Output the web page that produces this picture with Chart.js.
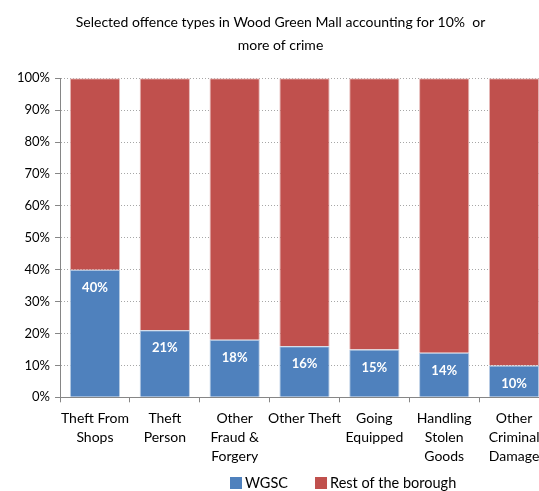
<!DOCTYPE html>
<html>
<head>
<meta charset="utf-8">
<script src="https://cdn.jsdelivr.net/npm/chart.js@4.4.1/dist/chart.umd.min.js"></script>
<style>
    html, body { margin: 0; padding: 0; background: #fff; overflow: hidden; }
    #wrap { width: 560px; height: 491px; }
</style>
</head>
<body>
<div id="wrap"><canvas id="crimeChart"></canvas></div>
<script>
const categories = [
    ["Theft From", "Shops"],
    ["Theft", "Person"],
    ["Other", "Fraud &", "Forgery"],
    "Other Theft",
    ["Going", "Equipped"],
    ["Handling", "Stolen", "Goods"],
    ["Other", "Criminal", "Damage"]
];
const wgscValues = [40, 21, 18, 16, 15, 14, 10];
const restValues = [60, 79, 82, 84, 85, 86, 90];
const seriesNames = ["WGSC", "Rest of the borough"];
const seriesColors = ["#4F81BD", "#C0504D"];

const FONT = "Lato, 'DejaVu Sans', sans-serif";

// white value labels inside the top of the blue bars
const valueLabels = {
    id: "valueLabels",
    afterDatasetsDraw(chart) {
        const ctx = chart.ctx;
        const meta = chart.getDatasetMeta(0);
        ctx.save();
        ctx.fillStyle = "#ffffff";
        ctx.font = "bold 13px " + FONT;
        ctx.textAlign = "center";
        ctx.textBaseline = "middle";
        meta.data.forEach((bar, i) => {
            ctx.fillText(wgscValues[i] + "%", bar.x, bar.y + 18);
        });
        ctx.restore();
    }
};

// legend drawn by hand so it can sit where the original has it
const customLegend = {
    id: "customLegend",
    afterDraw(chart) {
        const ctx = chart.ctx;
        ctx.save();
        ctx.font = "14.5px " + FONT;
        ctx.textBaseline = "middle";
        let x = 230;
        const y = 483;
        seriesNames.forEach((name, i) => {
            ctx.fillStyle = seriesColors[i];
            ctx.fillRect(x, y - 6, 12, 12);
            ctx.fillStyle = "#000";
            ctx.fillText(name, x + 15, y);
            x += 15 + ctx.measureText(name).width + 27;
        });
        ctx.restore();
    }
};

new Chart(document.getElementById("crimeChart"), {
    type: "bar",
    data: {
        labels: categories,
        datasets: [
            {
                label: seriesNames[0],
                data: wgscValues,
                backgroundColor: seriesColors[0],
                borderColor: "#b9cde5",
                borderWidth: 1,
                barPercentage: 0.72,
                categoryPercentage: 1
            },
            {
                label: seriesNames[1],
                data: restValues,
                backgroundColor: seriesColors[1],
                borderColor: "#e6b9b8",
                borderWidth: 1,
                barPercentage: 0.72,
                categoryPercentage: 1
            }
        ]
    },
    options: {
        responsive: true,
        maintainAspectRatio: false,
        animation: false,
        layout: { padding: { top: 11, right: 11, bottom: 18, left: 12 } },
        plugins: {
            legend: { display: false },
            tooltip: { enabled: false },
            title: {
                display: true,
                text: ["Selected offence types in Wood Green Mall accounting for 10%  or", "more of crime"],
                color: "#000",
                font: { family: FONT, size: 14, weight: "normal", lineHeight: 1.65 },
                padding: { top: 0, bottom: 21 }
            }
        },
        scales: {
            x: {
                stacked: true,
                grid: {
                    offset: true,
                    drawOnChartArea: false,
                    tickLength: 5,
                    color: "#868686"
                },
                border: { color: "#868686" },
                ticks: {
                    color: "#000",
                    font: { family: FONT, size: 14, lineHeight: 1.35 },
                    maxRotation: 0,
                    autoSkip: false,
                    padding: 7
                }
            },
            y: {
                stacked: true,
                min: 0,
                max: 100,
                grid: {
                    color: "#a6a6a6",
                    tickColor: "#868686",
                    tickLength: 5,
                    lineWidth: 1
                },
                border: { color: "#868686", dash: [1, 2] },
                ticks: {
                    stepSize: 10,
                    color: "#000",
                    font: { family: FONT, size: 13 },
                    padding: 5,
                    callback: v => v + "%"
                }
            }
        }
    },
    plugins: [valueLabels, customLegend]
});
</script>
</body>
</html>
